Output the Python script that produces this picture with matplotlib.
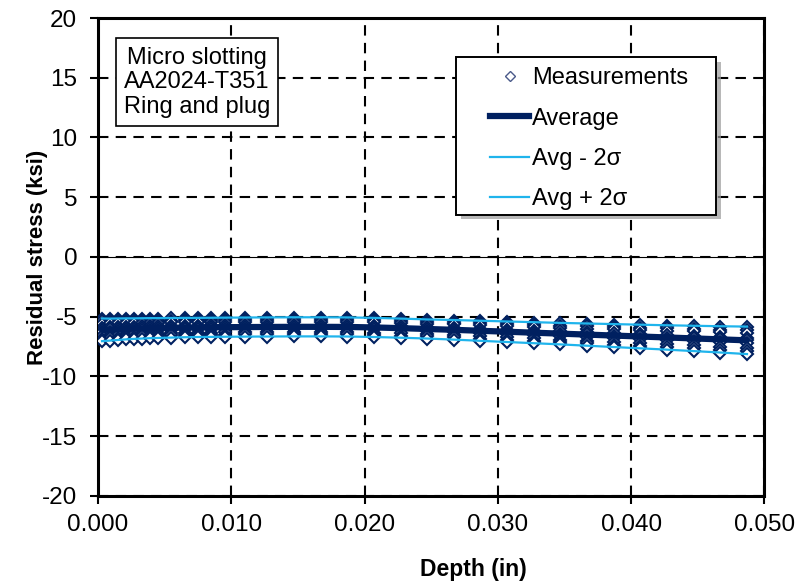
import matplotlib
matplotlib.use("Agg")
import matplotlib.pyplot as plt
from matplotlib.lines import Line2D
from matplotlib.patches import Rectangle

plt.rcParams["font.family"] = ["Liberation Sans", "DejaVu Sans"]
plt.rcParams["axes.unicode_minus"] = False

# Slot depths (in)
depth = [0.0003, 0.0009, 0.0015, 0.0021, 0.0027, 0.0033, 0.0039, 0.0045,
         0.0055, 0.0065, 0.0075, 0.0085, 0.0095, 0.0110,
         0.0127, 0.0147, 0.0167, 0.0187, 0.0207, 0.0227, 0.0247, 0.0267,
         0.0287, 0.0307, 0.0327, 0.0347, 0.0367, 0.0387, 0.0407, 0.0427,
         0.0447, 0.0467, 0.0487]

# Individual specimen measurements (ksi)
spec_1 = [-5.20, -5.21, -5.20, -5.18, -5.18, -5.17, -5.16, -5.16, -5.15, -5.14, -5.14,
          -5.13, -5.12, -5.11, -5.10, -5.09, -5.09, -5.10, -5.14, -5.20, -5.27, -5.32,
          -5.38, -5.44, -5.50, -5.57, -5.62, -5.67, -5.72, -5.77, -5.81, -5.86, -5.89]
spec_2 = [-5.39, -5.39, -5.38, -5.36, -5.36, -5.34, -5.33, -5.33, -5.32, -5.30, -5.30,
          -5.29, -5.28, -5.27, -5.26, -5.25, -5.25, -5.26, -5.30, -5.36, -5.43, -5.49,
          -5.55, -5.62, -5.68, -5.75, -5.80, -5.86, -5.92, -5.98, -6.03, -6.08, -6.12]
spec_3 = [-5.58, -5.57, -5.56, -5.54, -5.53, -5.51, -5.50, -5.49, -5.48, -5.46, -5.46,
          -5.45, -5.44, -5.43, -5.42, -5.41, -5.41, -5.42, -5.46, -5.52, -5.59, -5.65,
          -5.72, -5.79, -5.86, -5.93, -5.99, -6.05, -6.12, -6.18, -6.24, -6.30, -6.35]
spec_4 = [-5.91, -5.90, -5.87, -5.84, -5.83, -5.81, -5.79, -5.78, -5.77, -5.75, -5.74,
          -5.73, -5.72, -5.71, -5.70, -5.69, -5.69, -5.70, -5.74, -5.80, -5.87, -5.94,
          -6.01, -6.09, -6.16, -6.24, -6.31, -6.39, -6.46, -6.54, -6.61, -6.68, -6.75]
spec_5 = [-6.11, -6.07, -6.06, -6.03, -6.01, -5.98, -5.97, -5.94, -5.93, -5.92, -5.89,
          -5.90, -5.87, -5.88, -5.85, -5.86, -5.84, -5.87, -5.89, -5.97, -6.02, -6.11,
          -6.17, -6.27, -6.33, -6.43, -6.49, -6.59, -6.65, -6.75, -6.81, -6.91, -6.97]
spec_6 = [-6.29, -6.26, -6.23, -6.20, -6.17, -6.15, -6.13, -6.12, -6.09, -6.07, -6.06,
          -6.05, -6.04, -6.03, -6.02, -6.01, -6.01, -6.02, -6.06, -6.12, -6.19, -6.26,
          -6.35, -6.43, -6.52, -6.60, -6.69, -6.77, -6.86, -6.94, -7.03, -7.12, -7.21]
spec_7 = [-6.62, -6.59, -6.55, -6.50, -6.47, -6.45, -6.42, -6.41, -6.38, -6.36, -6.34,
          -6.33, -6.32, -6.31, -6.30, -6.29, -6.29, -6.30, -6.34, -6.40, -6.47, -6.55,
          -6.64, -6.73, -6.82, -6.92, -7.01, -7.11, -7.20, -7.30, -7.40, -7.51, -7.61]
spec_8 = [-6.84, -6.80, -6.75, -6.71, -6.67, -6.64, -6.62, -6.60, -6.57, -6.54, -6.52,
          -6.51, -6.50, -6.49, -6.48, -6.47, -6.47, -6.48, -6.52, -6.58, -6.65, -6.74,
          -6.84, -6.93, -7.03, -7.12, -7.23, -7.33, -7.43, -7.54, -7.65, -7.76, -7.88]
spec_9 = [-7.05, -7.00, -6.95, -6.90, -6.86, -6.83, -6.80, -6.78, -6.75, -6.72, -6.70,
          -6.69, -6.68, -6.67, -6.66, -6.65, -6.65, -6.66, -6.70, -6.76, -6.83, -6.92,
          -7.02, -7.12, -7.22, -7.32, -7.43, -7.54, -7.65, -7.76, -7.88, -8.00, -8.13]
specimens = [spec_1, spec_2, spec_3, spec_4, spec_5, spec_6, spec_7, spec_8, spec_9]

# Average and +/- 2 sigma bounds (ksi)
average = [-6.10, -6.08, -6.05, -6.02, -6.00, -5.98, -5.96, -5.95, -5.93, -5.91, -5.90,
           -5.89, -5.88, -5.87, -5.86, -5.85, -5.85, -5.86, -5.90, -5.96, -6.03, -6.10,
           -6.18, -6.26, -6.34, -6.42, -6.50, -6.58, -6.66, -6.74, -6.82, -6.90, -6.98]
avg_minus = [-7.05, -7.00, -6.95, -6.90, -6.86, -6.83, -6.80, -6.78, -6.75, -6.72, -6.70,
             -6.69, -6.68, -6.67, -6.66, -6.65, -6.65, -6.66, -6.70, -6.76, -6.83, -6.92,
             -7.02, -7.12, -7.22, -7.32, -7.43, -7.54, -7.65, -7.76, -7.88, -8.00, -8.13]
avg_plus = [-5.15, -5.16, -5.15, -5.14, -5.14, -5.13, -5.12, -5.12, -5.11, -5.10, -5.10,
            -5.09, -5.08, -5.07, -5.06, -5.05, -5.05, -5.06, -5.10, -5.16, -5.23, -5.28,
            -5.34, -5.40, -5.46, -5.52, -5.57, -5.62, -5.67, -5.72, -5.76, -5.80, -5.83]

x_ticks = [0.000, 0.010, 0.020, 0.030, 0.040, 0.050]
x_tick_labels = ["0.000", "0.010", "0.020", "0.030", "0.040", "0.050"]
y_ticks = [-20, -15, -10, -5, 0, 5, 10, 15, 20]
legend_labels = ["Measurements", "Average", "Avg - 2σ", "Avg + 2σ"]
note_text = "Micro slotting\nAA2024-T351\nRing and plug"

NAVY = "#002060"
CYAN = "#1fb4ec"

fig = plt.figure(figsize=(7.97, 5.82), dpi=100)
ax = fig.add_axes([0.123, 0.148, 0.836, 0.821])

for s in specimens:
    ax.plot(depth, s, linestyle="none", marker="D", markersize=6.5,
            markerfacecolor="white", markeredgecolor=NAVY, markeredgewidth=1.5,
            zorder=3)
ax.plot(depth, avg_minus, color=CYAN, lw=1.6, zorder=4)
ax.plot(depth, avg_plus, color=CYAN, lw=1.6, zorder=4)
ax.plot(depth, average, color=NAVY, lw=4.5, solid_capstyle="round", zorder=5)

ax.axhline(0, color="black", lw=0.8, zorder=2)

ax.set_xlim(0, 0.05)
ax.set_ylim(-20, 20)
ax.set_xticks(x_ticks)
ax.set_xticklabels(x_tick_labels)
ax.set_yticks(y_ticks)
ax.grid(True, color="black", linestyle=(0, (5, 3.5)), lw=1.5, zorder=1)
ax.tick_params(axis="both", direction="out", length=6, width=1.5, labelsize=17.5)
ax.tick_params(axis="y", pad=9)
ax.tick_params(axis="x", pad=7)
for sp in ax.spines.values():
    sp.set_linewidth(2.2)

ax.set_xlabel("Depth (in)", fontsize=16.5, fontweight="bold", labelpad=16)
ax.xaxis.label.set_x(0.563)
ax.set_ylabel("Residual stress (ksi)", fontsize=16, fontweight="bold", labelpad=-4)

# Specimen / method note
ax.text(0.00743, 14.64, note_text, fontsize=17, ha="center", va="center",
        multialignment="center", linespacing=1.15, zorder=6,
        bbox=dict(boxstyle="square,pad=0.35", fc="white", ec="black", lw=1.2))

# Legend frame with drop shadow
fx0, fy0, fw, fh = 0.5375, 0.588, 0.3905, 0.33
ax.add_patch(Rectangle((fx0 + 0.007, fy0 - 0.009), fw, fh, transform=ax.transAxes,
                       facecolor="#9a9a9a", edgecolor="none", alpha=0.7,
                       zorder=7, clip_on=False))
ax.add_patch(Rectangle((fx0, fy0), fw, fh, transform=ax.transAxes,
                       facecolor="white", edgecolor="black", lw=1.4,
                       zorder=8, clip_on=False))

handles = [
    Line2D([], [], linestyle="none", marker="D", markersize=5.5,
           markerfacecolor="white", markeredgecolor="#4a5a8a", markeredgewidth=1),
    Line2D([], [], color=NAVY, lw=4.5),
    Line2D([], [], color=CYAN, lw=1.6),
    Line2D([], [], color=CYAN, lw=1.6),
]
leg = ax.legend(handles, legend_labels, loc="upper left",
                bbox_to_anchor=(0.5886, 0.8966), fontsize=17, frameon=False,
                handlelength=1.65, handletextpad=0.12, labelspacing=0.775,
                borderpad=0, borderaxespad=0)
leg.set_zorder(9)

fig.savefig("out.png", dpi=100)
